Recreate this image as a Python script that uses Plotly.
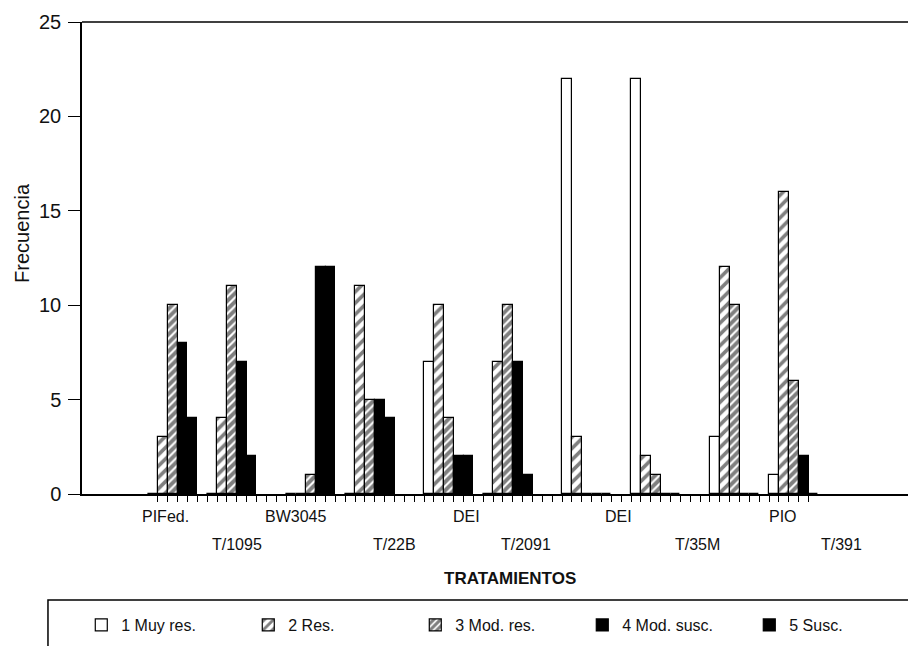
import plotly.graph_objects as go

# ---------------- data ----------------
treatments = ["PIFed.", "T/1095", "BW3045", "T/22B", "DEI", "T/2091", "DEI", "T/35M", "PIO", "T/391"]
series_names = ["1 Muy res.", "2 Res.", "3 Mod. res.", "4 Mod. susc.", "5 Susc."]
muy_res  = [0, 0, 0, 0, 7, 0, 22, 22, 3, 1]
res      = [3, 4, 0, 11, 10, 7, 3, 2, 12, 16]
mod_res  = [10, 11, 1, 5, 4, 10, 0, 1, 10, 6]
mod_susc = [8, 7, 12, 5, 2, 7, 0, 0, 0, 2]
susc     = [4, 2, 12, 4, 2, 1, 0, 0, 0, 0]
y_ticks = [0, 5, 10, 15, 20, 25]

# ---------------- layout constants ----------------
# gap (in bar slots) after each treatment group
group_gaps = [1, 3, 1, 3, 1, 3, 2, 3, 1]
# label centres (in bar-slot units) and row (0 = upper, 1 = lower)
label_pos = [1.3, 8.5, 14.5, 24.5, 31.8, 37.8, 47.2, 55.2, 63.9, 69.8]
label_row = [0, 1, 0, 1, 0, 1, 0, 1, 0, 1]

all_series = [muy_res, res, mod_res, mod_susc, susc]
n_series = len(all_series)

starts = [0]
for g in group_gaps:
    starts.append(starts[-1] + n_series + g)

styles = [
    dict(color="white"),
    dict(color="white", pattern=dict(shape="/", fgcolor="black", bgcolor="white", size=8, solidity=0.45)),
    dict(color="white", pattern=dict(shape="/", fgcolor="black", bgcolor="white", size=6, solidity=0.65)),
    dict(color="black"),
    dict(color="black"),
]

fig = go.Figure()
for si, (name, vals) in enumerate(zip(series_names, all_series)):
    xs = [s + si for s in starts]
    fig.add_trace(go.Bar(
        x=xs, y=vals, name=name, width=1.0,
        marker=dict(line=dict(color="black", width=1.2), **styles[si]),
        showlegend=True,
    ))

last_boundary = starts[-1] + n_series - 1
tick_vals = [k + 0.5 for k in range(0, last_boundary)]

FONT = "Liberation Sans, Arial, Helvetica, sans-serif"
NARROW = "Liberation Sans Narrow, Arial Narrow, Liberation Sans, sans-serif"

annotations = []
for lbl, pos, row in zip(treatments, label_pos, label_row):
    annotations.append(dict(
        x=pos, y=-0.048 if row == 0 else -0.108, xref="x", yref="paper",
        text=lbl, showarrow=False, font=dict(family=FONT, size=16, color="#111"),
        xanchor="center", yanchor="middle",
    ))
annotations.append(dict(
    x=0.513, y=-0.178, xref="paper", yref="paper", text="<b>TRATAMIENTOS</b>",
    showarrow=False, font=dict(family=NARROW, size=17, color="#111"),
    xanchor="center", yanchor="middle",
))
annotations.append(dict(
    x=-0.072, y=0.553, xref="paper", yref="paper", text="Frecuencia", textangle=-90,
    showarrow=False, font=dict(family=FONT, size=20, color="#111"),
    xanchor="center", yanchor="middle",
))

fig.update_layout(
    width=916, height=646,
    margin=dict(l=74, r=8, t=14, b=160, autoexpand=False),
    paper_bgcolor="white", plot_bgcolor="white",
    barmode="overlay",
    bargap=0,
    annotations=annotations,
    shapes=[
        dict(type="line", xref="paper", yref="paper", x0=0, x1=1.02, y0=1, y1=1,
             line=dict(color="black", width=1.5)),
        dict(type="line", xref="paper", yref="y", x0=0, x1=0, y0=0, y1=-0.6,
             line=dict(color="black", width=1.5)),
        dict(type="rect", xref="paper", yref="paper", x0=-0.0408, x1=1.03,
             y0=-0.2246, y1=-0.45, line=dict(color="black", width=1.5),
             fillcolor="rgba(0,0,0,0)", layer="below"),
    ],
    legend=dict(
        orientation="h", xref="container", x=0.08, y=-0.2775,
        xanchor="left", yanchor="middle",
        borderwidth=0, bgcolor="rgba(0,0,0,0)",
        entrywidth=122, entrywidthmode="pixels",
        font=dict(family=FONT, size=16, color="#111"),
    ),
    xaxis=dict(
        range=[-7.2, 77.4], showgrid=False, zeroline=False, automargin=False,
        showline=True, linecolor="black", linewidth=1.5,
        tickmode="array", tickvals=tick_vals, ticktext=["" for _ in tick_vals],
        ticks="outside", ticklen=6, tickcolor="black", tickwidth=1.2,
    ),
    yaxis=dict(
        range=[0, 25], showgrid=False, zeroline=False, automargin=False,
        showline=True, linecolor="black", linewidth=1.5,
        tickmode="array", tickvals=y_ticks,
        ticks="outside", ticklen=12, tickcolor="black", tickwidth=1.2,
        ticklabelstandoff=3,
        tickfont=dict(family=FONT, size=20, color="#111"),
    ),
)

fig.write_html("out.html")
